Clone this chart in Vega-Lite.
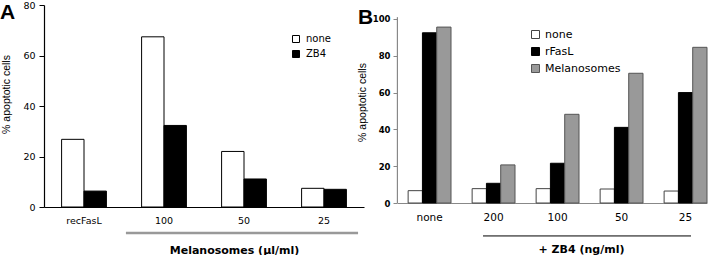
{
  "$schema": "https://vega.github.io/schema/vega-lite/v6.json",
  "padding": 0,
  "bounds": "flush",
  "spacing": 33,
  "background": "white",
  "config": {"view": {"stroke": null}, "font": "DejaVu Sans"},
  "resolve": {"scale": {"fill": "independent", "stroke": "independent", "y": "independent", "x": "independent", "xOffset": "independent"}, "legend": {"fill": "independent", "stroke": "independent"}},
  "datasets": {
    "a": [
      {"dose": "recFasL", "treat": "none", "pct": 26.8},
      {"dose": "recFasL", "treat": "ZB4", "pct": 6.3},
      {"dose": "100", "treat": "none", "pct": 67.4},
      {"dose": "100", "treat": "ZB4", "pct": 32.3},
      {"dose": "50", "treat": "none", "pct": 22.0},
      {"dose": "50", "treat": "ZB4", "pct": 11.1},
      {"dose": "25", "treat": "none", "pct": 7.4},
      {"dose": "25", "treat": "ZB4", "pct": 7.0}
    ],
    "b": [
      {"dose": "none", "treat": "none", "pct": 6.7},
      {"dose": "none", "treat": "rFasL", "pct": 92.5},
      {"dose": "none", "treat": "Melanosomes", "pct": 95.6},
      {"dose": "200", "treat": "none", "pct": 7.8},
      {"dose": "200", "treat": "rFasL", "pct": 10.7},
      {"dose": "200", "treat": "Melanosomes", "pct": 20.7},
      {"dose": "100", "treat": "none", "pct": 7.8},
      {"dose": "100", "treat": "rFasL", "pct": 21.6},
      {"dose": "100", "treat": "Melanosomes", "pct": 48.2},
      {"dose": "50", "treat": "none", "pct": 7.6},
      {"dose": "50", "treat": "rFasL", "pct": 41.1},
      {"dose": "50", "treat": "Melanosomes", "pct": 70.5},
      {"dose": "25", "treat": "none", "pct": 6.5},
      {"dose": "25", "treat": "rFasL", "pct": 60.0},
      {"dose": "25", "treat": "Melanosomes", "pct": 84.6}
    ],
    "one": [{"k": 1}]
  },
  "hconcat": [
    {
      "width": 320,
      "height": 202,
      "title": {"text": "A", "anchor": "start", "frame": "group", "orient": "top", "offset": -40, "baseline": "alphabetic", "dx": -44, "font": "Liberation Sans", "fontSize": 21, "fontWeight": "bold", "color": "black"},
      "resolve": {"scale": {"y": "independent"}, "axis": {"y": "independent"}},
      "layer": [
        {
          "data": {"name": "a"},
          "mark": {"type": "bar", "stroke": "black", "strokeWidth": 1},
          "encoding": {
            "x": {"field": "dose", "type": "nominal", "scale": {"domain": ["recFasL", "100", "50", "25"], "paddingInner": 0.44, "paddingOuter": 0.22},
              "axis": {"title": "Melanosomes (µl/ml)", "labelAngle": 0, "ticks": false, "labelPadding": 8, "labelFont": "DejaVu Sans", "labelFontSize": 9.5, "labelColor": "black", "domainColor": "black", "domainWidth": 1.2,
                "titleFont": "DejaVu Sans", "titleFontSize": 11, "titleFontWeight": "bold", "titleColor": "black", "titleX": 190, "titleY": 46, "titleBaseline": "alphabetic", "titleAlign": "center"}},
            "xOffset": {"field": "treat", "type": "nominal", "scale": {"domain": ["none", "ZB4"], "paddingInner": 0, "paddingOuter": 0}},
            "y": {"field": "pct", "type": "quantitative", "scale": {"domain": [0, 80], "nice": false},
              "axis": {"values": [0, 20, 40, 60, 80], "labelOverlap": false, "grid": false, "tickSize": 5, "tickColor": "black", "domainColor": "black", "domainWidth": 1.2, "labelPadding": 4, "labelFont": "DejaVu Sans", "labelFontSize": 9.5, "labelColor": "black",
                "title": "% apoptotic cells", "titleFont": "Liberation Sans", "titleFontSize": 10.5, "titleFontWeight": "normal", "titleColor": "black", "titleX": -38, "titleY": 89, "titleAlign": "center", "titleBaseline": "middle", "titleAngle": -90}},
            "fill": {"field": "treat", "type": "nominal", "scale": {"domain": ["none", "ZB4"], "range": ["white", "black"]},
              "legend": {"title": null, "orient": "none", "legendX": 247, "legendY": 29, "symbolType": "square", "symbolSize": 49, "symbolStrokeColor": "black", "symbolStrokeWidth": 1, "labelFont": "DejaVu Sans", "labelFontSize": 10, "labelColor": "black", "rowPadding": 3, "labelOffset": 5}}
          }
        },
        {
          "data": {"name": "one"},
          "mark": {"type": "rule", "color": "#999999", "strokeWidth": 2.5},
          "encoding": {
            "x": {"datum": "100", "type": "nominal", "bandPosition": -0.35},
            "x2": {"datum": "25", "bandPosition": 1.26},
            "y": {"datum": -10.3, "type": "quantitative", "scale": {"domain": [0, 80], "nice": false}, "axis": null}
          }
        }
      ]
    },
    {
      "width": 310,
      "height": 198,
      "title": {"text": "B", "anchor": "start", "frame": "group", "orient": "top", "offset": -40, "baseline": "alphabetic", "dx": -39, "font": "Liberation Sans", "fontSize": 21, "fontWeight": "bold", "color": "black"},
      "resolve": {"scale": {"y": "independent"}, "axis": {"y": "independent"}},
      "layer": [
        {
          "data": {"name": "b"},
          "mark": {"type": "bar", "strokeWidth": 1},
          "encoding": {
            "x": {"field": "dose", "type": "nominal", "scale": {"domain": ["none", "200", "100", "50", "25"], "paddingInner": 0.33, "paddingOuter": 0.087, "align": 1},
              "axis": {"title": "+ ZB4 (ng/ml)", "labelAngle": 0, "ticks": false, "labelPadding": 9, "labelFont": "DejaVu Sans", "labelFontSize": 10.5, "labelColor": "black", "domainColor": "#888888", "domainWidth": 1.2,
                "titleFont": "DejaVu Sans", "titleFontSize": 11, "titleFontWeight": "bold", "titleColor": "black", "titleX": 184, "titleY": 49, "titleBaseline": "alphabetic", "titleAlign": "center"}},
            "xOffset": {"field": "treat", "type": "nominal", "scale": {"domain": ["none", "rFasL", "Melanosomes"], "paddingInner": 0, "paddingOuter": 0}},
            "y": {"field": "pct", "type": "quantitative", "scale": {"domain": [0, 107.6], "nice": false},
              "axis": {"values": [0, 20, 40, 60, 80, 100], "labelOverlap": false, "grid": false, "domain": false, "tickSize": 4, "tickColor": "#888888", "labelPadding": 3, "labelFont": "DejaVu Sans", "labelFontSize": 8.5, "labelFontWeight": "bold", "labelColor": "black",
                "title": "% apoptotic cells", "titleFont": "Liberation Sans", "titleFontSize": 10.5, "titleFontWeight": "normal", "titleColor": "black", "titleX": -35, "titleY": 97, "titleAlign": "center", "titleBaseline": "middle", "titleAngle": -90}},
            "fill": {"field": "treat", "type": "nominal", "scale": {"domain": ["none", "rFasL", "Melanosomes"], "range": ["white", "black", "#999999"]},
              "legend": {"title": null, "orient": "none", "legendX": 133, "legendY": 24, "symbolType": "square", "symbolSize": 64, "symbolStrokeColor": "#444444", "symbolStrokeWidth": 1, "labelFont": "DejaVu Sans", "labelFontSize": 11, "labelColor": "black", "rowPadding": 4, "labelOffset": 4}},
            "stroke": {"field": "treat", "type": "nominal", "scale": {"domain": ["none", "rFasL", "Melanosomes"], "range": ["#444444", "black", "#555555"]}, "legend": null}
          }
        },
        {
          "data": {"name": "one"},
          "mark": {"type": "rule", "color": "black", "strokeWidth": 1},
          "encoding": {
            "x": {"datum": "200", "type": "nominal", "bandPosition": 0.254},
            "x2": {"datum": "25", "bandPosition": 0.627},
            "y": {"datum": -17.9, "type": "quantitative", "scale": {"domain": [0, 107.6], "nice": false}, "axis": null}
          }
        },
        {
          "data": {"name": "one"},
          "mark": {"type": "rule", "color": "#888888", "strokeWidth": 1.2},
          "encoding": {
            "x": {"datum": "none", "type": "nominal", "bandPosition": -0.25},
            "y": {"datum": 0, "type": "quantitative", "scale": {"domain": [0, 107.6], "nice": false}, "axis": null},
            "y2": {"datum": 101}
          }
        }
      ]
    }
  ]
}
